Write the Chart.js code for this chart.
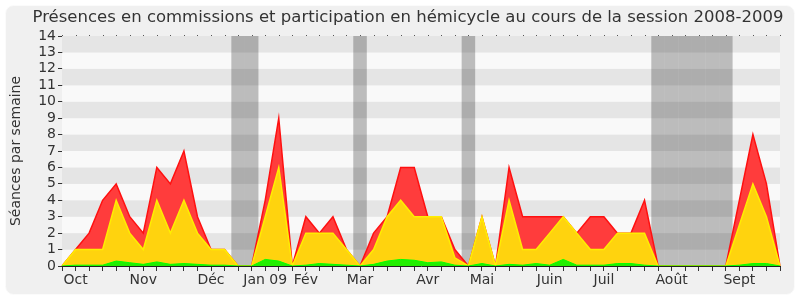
<!DOCTYPE html>
<html>
<head>
<meta charset="utf-8">
<script src="https://cdn.jsdelivr.net/npm/chart.js"></script>
<style>
  html, body { margin: 0; padding: 0; background: #ffffff; }
  canvas { display: block; }
</style>
</head>
<body>
<canvas id="myChart" width="800" height="300"></canvas>
<script>
// data block : one value per week of the session (54 weeks, Oct 2008 -> Sept 2009)
const chartTitle = 'Présences en commissions et participation en hémicycle au cours de la session 2008-2009';
const monthNames = ['Oct', 'Nov', 'Déc', 'Jan 09', 'Fév', 'Mar', 'Avr', 'Mai', 'Juin', 'Juil', 'Août', 'Sept'];
const monthWeeks = [1, 6, 11, 15, 18, 22, 27, 31, 36, 40, 45, 50];
const vacationWeeks = [13, 14, 22, 30, 44, 45, 46, 47, 48, 49];
const yTicks = [0, 1, 2, 3, 4, 5, 6, 7, 8, 9, 10, 11, 12, 13, 14];

// red = total, yellow = middle layer, green = bottom layer
const redValues = [0, 1, 2, 4, 5, 3, 2, 6, 5, 7, 3, 1, 1, 0, 0, 4, 9, 0, 3, 2,
  3, 1, 0, 2, 3, 6, 6, 3, 3, 1, 0, 3, 0, 6, 3, 3, 3, 3, 2, 3,
  3, 2, 2, 4, 0, 0, 0, 0, 0, 0, 4, 8, 5, 0];
const yellowValues = [0, 1, 1, 1, 4, 2, 1, 4, 2, 4, 2, 1, 1, 0, 0, 3, 6, 0, 2, 2,
  2, 1, 0, 1, 3, 4, 3, 3, 3, 0.5, 0, 3, 0, 4, 1, 1, 2, 3, 2, 1,
  1, 2, 2, 2, 0, 0, 0, 0, 0, 0, 2.5, 5, 3, 0];
const greenValues = [0, 0.05, 0.05, 0.05, 0.3, 0.2, 0.1, 0.25, 0.1, 0.15, 0.1, 0.05, 0.05, 0, 0, 0.4, 0.3, 0, 0.05, 0.15,
  0.1, 0.05, 0, 0.1, 0.3, 0.4, 0.35, 0.2, 0.25, 0.05, 0, 0.15, 0, 0.1, 0.05, 0.15, 0.05, 0.4, 0.05, 0.05,
  0.05, 0.15, 0.15, 0.05, 0, 0, 0, 0, 0, 0, 0.05, 0.15, 0.15, 0];

const weekLabels = redValues.map((v, i) => {
  const m = monthWeeks.indexOf(i);
  return m >= 0 ? monthNames[m] : '';
});

Chart.defaults.font.family = '"DejaVu Sans", sans-serif';
Chart.defaults.color = '#333333';

// frame, title, background stripes, vacation bands
const backgroundPlugin = {
  id: 'backgroundPlugin',
  beforeDraw(chart) {
    const c = chart.ctx;
    c.save();
    c.fillStyle = '#f0f0f0';
    c.strokeStyle = '#fbfbfb';
    c.lineWidth = 1;
    c.beginPath();
    c.roundRect(5.5, 5.5, chart.width - 11, chart.height - 11, 8);
    c.fill();
    c.stroke();
    c.fillStyle = '#333333';
    c.font = '16.5px "DejaVu Sans", sans-serif';
    c.textAlign = 'center';
    c.textBaseline = 'middle';
    c.fillText(chartTitle, 408, 18);
    c.restore();
  },
  beforeDatasetsDraw(chart) {
    const c = chart.ctx;
    const area = chart.chartArea;
    const x = chart.scales.x;
    const y = chart.scales.y;
    c.save();
    for (let k = 0; k < yTicks.length - 1; k++) {
      const top = y.getPixelForValue(yTicks[k + 1]);
      const bot = y.getPixelForValue(yTicks[k]);
      c.fillStyle = k % 2 === 1 ? '#e5e5e5' : '#f9f9f9';
      c.fillRect(area.left, top, area.right - area.left, bot - top);
    }
    const step = x.getPixelForValue(1) - x.getPixelForValue(0);
    c.fillStyle = 'rgba(0,0,0,0.245)';
    vacationWeeks.forEach(w => {
      const x0 = Math.max(area.left, x.getPixelForValue(w) - step / 2);
      const x1 = Math.min(area.right, x.getPixelForValue(w) + step / 2);
      c.fillRect(x0, area.top, x1 - x0, area.bottom - area.top);
    });
    c.restore();
  },
  afterDraw(chart) {
    // little dots along the top edge, one per week
    const c = chart.ctx;
    const x = chart.scales.x;
    c.save();
    c.fillStyle = '#555555';
    for (let i = 0; i < weekLabels.length; i++) {
      c.fillRect(Math.round(x.getPixelForValue(i)), chart.chartArea.top - 1, 1, 1);
    }
    c.restore();
  }
};

const config = {
  type: 'line',
  data: {
    labels: weekLabels,
    datasets: [
      {
        label: 'vert',
        data: greenValues,
        fill: 'origin',
        backgroundColor: '#22ee00',
        borderColor: '#00ff00',
        borderWidth: 1
      },
      {
        label: 'jaune',
        data: yellowValues,
        fill: 'origin',
        backgroundColor: '#ffd30e',
        borderColor: '#ffee00',
        borderWidth: 1.5
      },
      {
        label: 'rouge',
        data: redValues,
        fill: 'origin',
        backgroundColor: '#ff3c3c',
        borderColor: '#ff1010',
        borderWidth: 1.5
      }
    ]
  },
  options: {
    responsive: false,
    devicePixelRatio: 1,
    animation: false,
    elements: {
      point: { radius: 0, hoverRadius: 0 },
      line: { tension: 0 }
    },
    layout: { padding: { left: 8, right: 20, top: 36, bottom: 0 } },
    plugins: {
      legend: { display: false },
      tooltip: { enabled: false },
      title: { display: false }
    },
    scales: {
      x: {
        type: 'category',
        offset: false,
        grid: { drawOnChartArea: false, tickLength: 5, color: '#333333' },
        border: { color: '#222222' },
        ticks: {
          autoSkip: false,
          maxRotation: 0,
          font: { size: 14 },
          padding: 1
        },
        afterFit(scale) { scale.height = 34; }
      },
      y: {
        min: 0,
        max: 14,
        grid: { drawOnChartArea: false, tickLength: 4, color: '#333333' },
        border: { color: '#222222' },
        ticks: { stepSize: 1, autoSkip: false, font: { size: 14 }, padding: 2 },
        title: { display: true, text: 'Séances par semaine', font: { size: 14 }, padding: 0 },
        afterFit(scale) { scale.width = 54; }
      }
    }
  },
  plugins: [backgroundPlugin]
};

const myChart = new Chart(document.getElementById('myChart'), config);
</script>
</body>
</html>
